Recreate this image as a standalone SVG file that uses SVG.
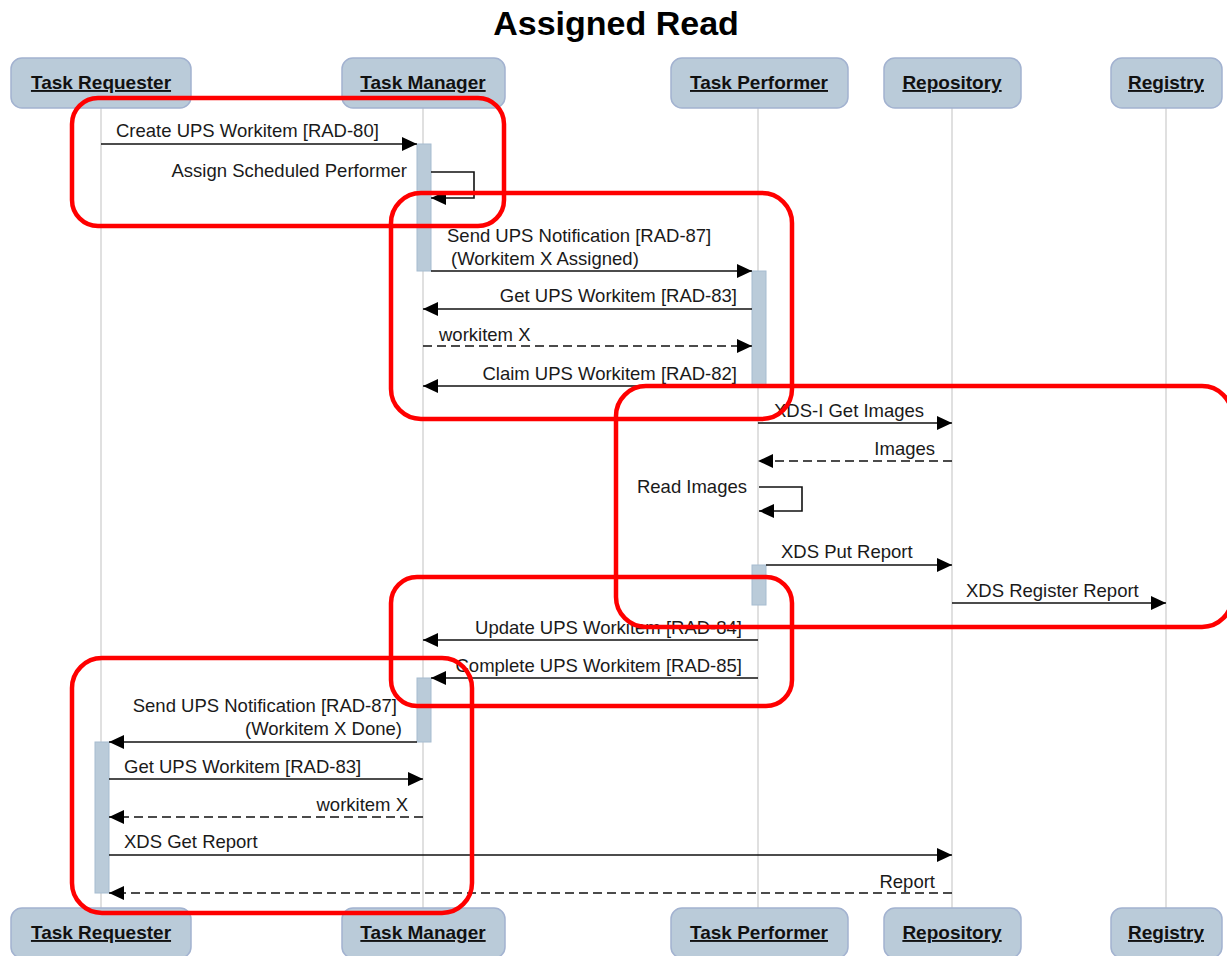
<svg xmlns="http://www.w3.org/2000/svg" width="1227" height="956" viewBox="0 0 1227 956">
<style>
text{font-family:"Liberation Sans",Arial,sans-serif;fill:#1a1a1a}
.title{font-size:34px;font-weight:bold;text-anchor:middle;fill:#000}
.hdr{fill:#bacbd9;stroke:#a2b2d0;stroke-width:1.5}
.hl{font-size:19px;font-weight:bold;text-anchor:middle;text-decoration:underline;fill:#111}
.life{stroke:#cccccc;stroke-width:1.2}
.act{fill:#bacbd9;stroke:#a6bcd0;stroke-width:1}
.msg{fill:none;stroke:#111;stroke-width:1.6;marker-end:url(#ah)}
.dash{stroke-dasharray:9,5}
.lb{font-size:18.5px}
.e{text-anchor:end}
.red{fill:none;stroke:#ff0000;stroke-width:4.5}
</style>
<defs>
<marker id="ah" viewBox="0 0 15 14" refX="15" refY="7" markerWidth="15" markerHeight="14" markerUnits="userSpaceOnUse" orient="auto">
<path d="M0,0 L15,7 L0,14 Z" fill="#000"/>
</marker>
</defs>
<rect width="1227" height="956" fill="#fff"/>
<text class="title" x="616" y="35">Assigned Read</text>

<g id="lifelines">
<line class="life" x1="101" y1="108" x2="101" y2="908"/>
<line class="life" x1="423" y1="108" x2="423" y2="908"/>
<line class="life" x1="758" y1="108" x2="758" y2="908"/>
<line class="life" x1="952" y1="108" x2="952" y2="908"/>
<line class="life" x1="1166" y1="108" x2="1166" y2="908"/>
</g>

<g id="task-requester">
<rect class="hdr" x="11" y="58" width="180" height="50" rx="11"/>
<text class="hl" x="101" y="89">Task Requester</text>
<rect class="hdr" x="11" y="908" width="180" height="50" rx="11"/>
<text class="hl" x="101" y="939">Task Requester</text>
</g>
<g id="task-manager">
<rect class="hdr" x="342" y="58" width="163" height="50" rx="11"/>
<text class="hl" x="423" y="89">Task Manager</text>
<rect class="hdr" x="342" y="908" width="163" height="50" rx="11"/>
<text class="hl" x="423" y="939">Task Manager</text>
</g>
<g id="task-performer">
<rect class="hdr" x="671" y="58" width="177" height="50" rx="11"/>
<text class="hl" x="759" y="89">Task Performer</text>
<rect class="hdr" x="671" y="908" width="177" height="50" rx="11"/>
<text class="hl" x="759" y="939">Task Performer</text>
</g>
<g id="repository">
<rect class="hdr" x="884" y="58" width="137" height="50" rx="11"/>
<text class="hl" x="952" y="89">Repository</text>
<rect class="hdr" x="884" y="908" width="137" height="50" rx="11"/>
<text class="hl" x="952" y="939">Repository</text>
</g>
<g id="registry">
<rect class="hdr" x="1111" y="58" width="111" height="50" rx="11"/>
<text class="hl" x="1166" y="89">Registry</text>
<rect class="hdr" x="1111" y="908" width="111" height="50" rx="11"/>
<text class="hl" x="1166" y="939">Registry</text>
</g>

<g id="activations">
<rect class="act" x="417" y="144" width="14" height="127"/>
<rect class="act" x="752" y="271" width="14" height="116"/>
<rect class="act" x="752" y="565" width="14" height="40"/>
<rect class="act" x="417" y="678" width="14" height="64"/>
<rect class="act" x="95" y="742" width="14" height="151"/>
</g>

<g id="connectors">
<path class="msg" d="M101,144 H417"/>
<path class="msg" d="M431,172 H474 V198 H431"/>
<path class="msg" d="M431,271 H752"/>
<path class="msg" d="M752,309 H423"/>
<path class="msg dash" d="M423,346 H752"/>
<path class="msg" d="M752,386 H423"/>
<path class="msg" d="M758,423 H952"/>
<path class="msg dash" d="M952,461 H758"/>
<path class="msg" d="M759,487 H802 V511 H759"/>
<path class="msg" d="M766,565 H952"/>
<path class="msg" d="M952,603 H1166"/>
<path class="msg" d="M758,640 H423"/>
<path class="msg" d="M758,678 H431"/>
<path class="msg" d="M417,742 H109"/>
<path class="msg" d="M109,779 H423"/>
<path class="msg dash" d="M423,817 H109"/>
<path class="msg" d="M109,855 H952"/>
<path class="msg dash" d="M952,893 H109"/>
</g>

<g id="labels">
<text class="lb" x="116" y="137">Create UPS Workitem [RAD-80]</text>
<text class="lb e" x="407" y="177">Assign Scheduled Performer</text>
<text class="lb" x="447" y="242">Send UPS Notification [RAD-87]</text>
<text class="lb" x="451" y="265">(Workitem X Assigned)</text>
<text class="lb e" x="737" y="302">Get UPS Workitem [RAD-83]</text>
<text class="lb" x="439" y="341">workitem X</text>
<text class="lb e" x="737" y="380">Claim UPS Workitem [RAD-82]</text>
<text class="lb" x="774" y="417">XDS-I Get Images</text>
<text class="lb e" x="935" y="455">Images</text>
<text class="lb e" x="747" y="493">Read Images</text>
<text class="lb" x="781" y="558">XDS Put Report</text>
<text class="lb" x="966" y="597">XDS Register Report</text>
<text class="lb e" x="742" y="634">Update UPS Workitem [RAD-84]</text>
<text class="lb e" x="742" y="672">Complete UPS Workitem [RAD-85]</text>
<text class="lb e" x="397" y="712">Send UPS Notification [RAD-87]</text>
<text class="lb e" x="402" y="735">(Workitem X Done)</text>
<text class="lb" x="124" y="773">Get UPS Workitem [RAD-83]</text>
<text class="lb e" x="408" y="811">workitem X</text>
<text class="lb" x="124" y="848">XDS Get Report</text>
<text class="lb e" x="935" y="888">Report</text>
</g>

<g id="highlights">
<rect class="red" x="72" y="98" width="432" height="128" rx="26"/>
<rect class="red" x="391" y="193" width="401" height="226" rx="30"/>
<rect class="red" x="616" y="386" width="616" height="241" rx="30"/>
<rect class="red" x="391" y="577" width="401" height="129" rx="26"/>
<rect class="red" x="72" y="658" width="400" height="255" rx="30"/>
</g>
</svg>
